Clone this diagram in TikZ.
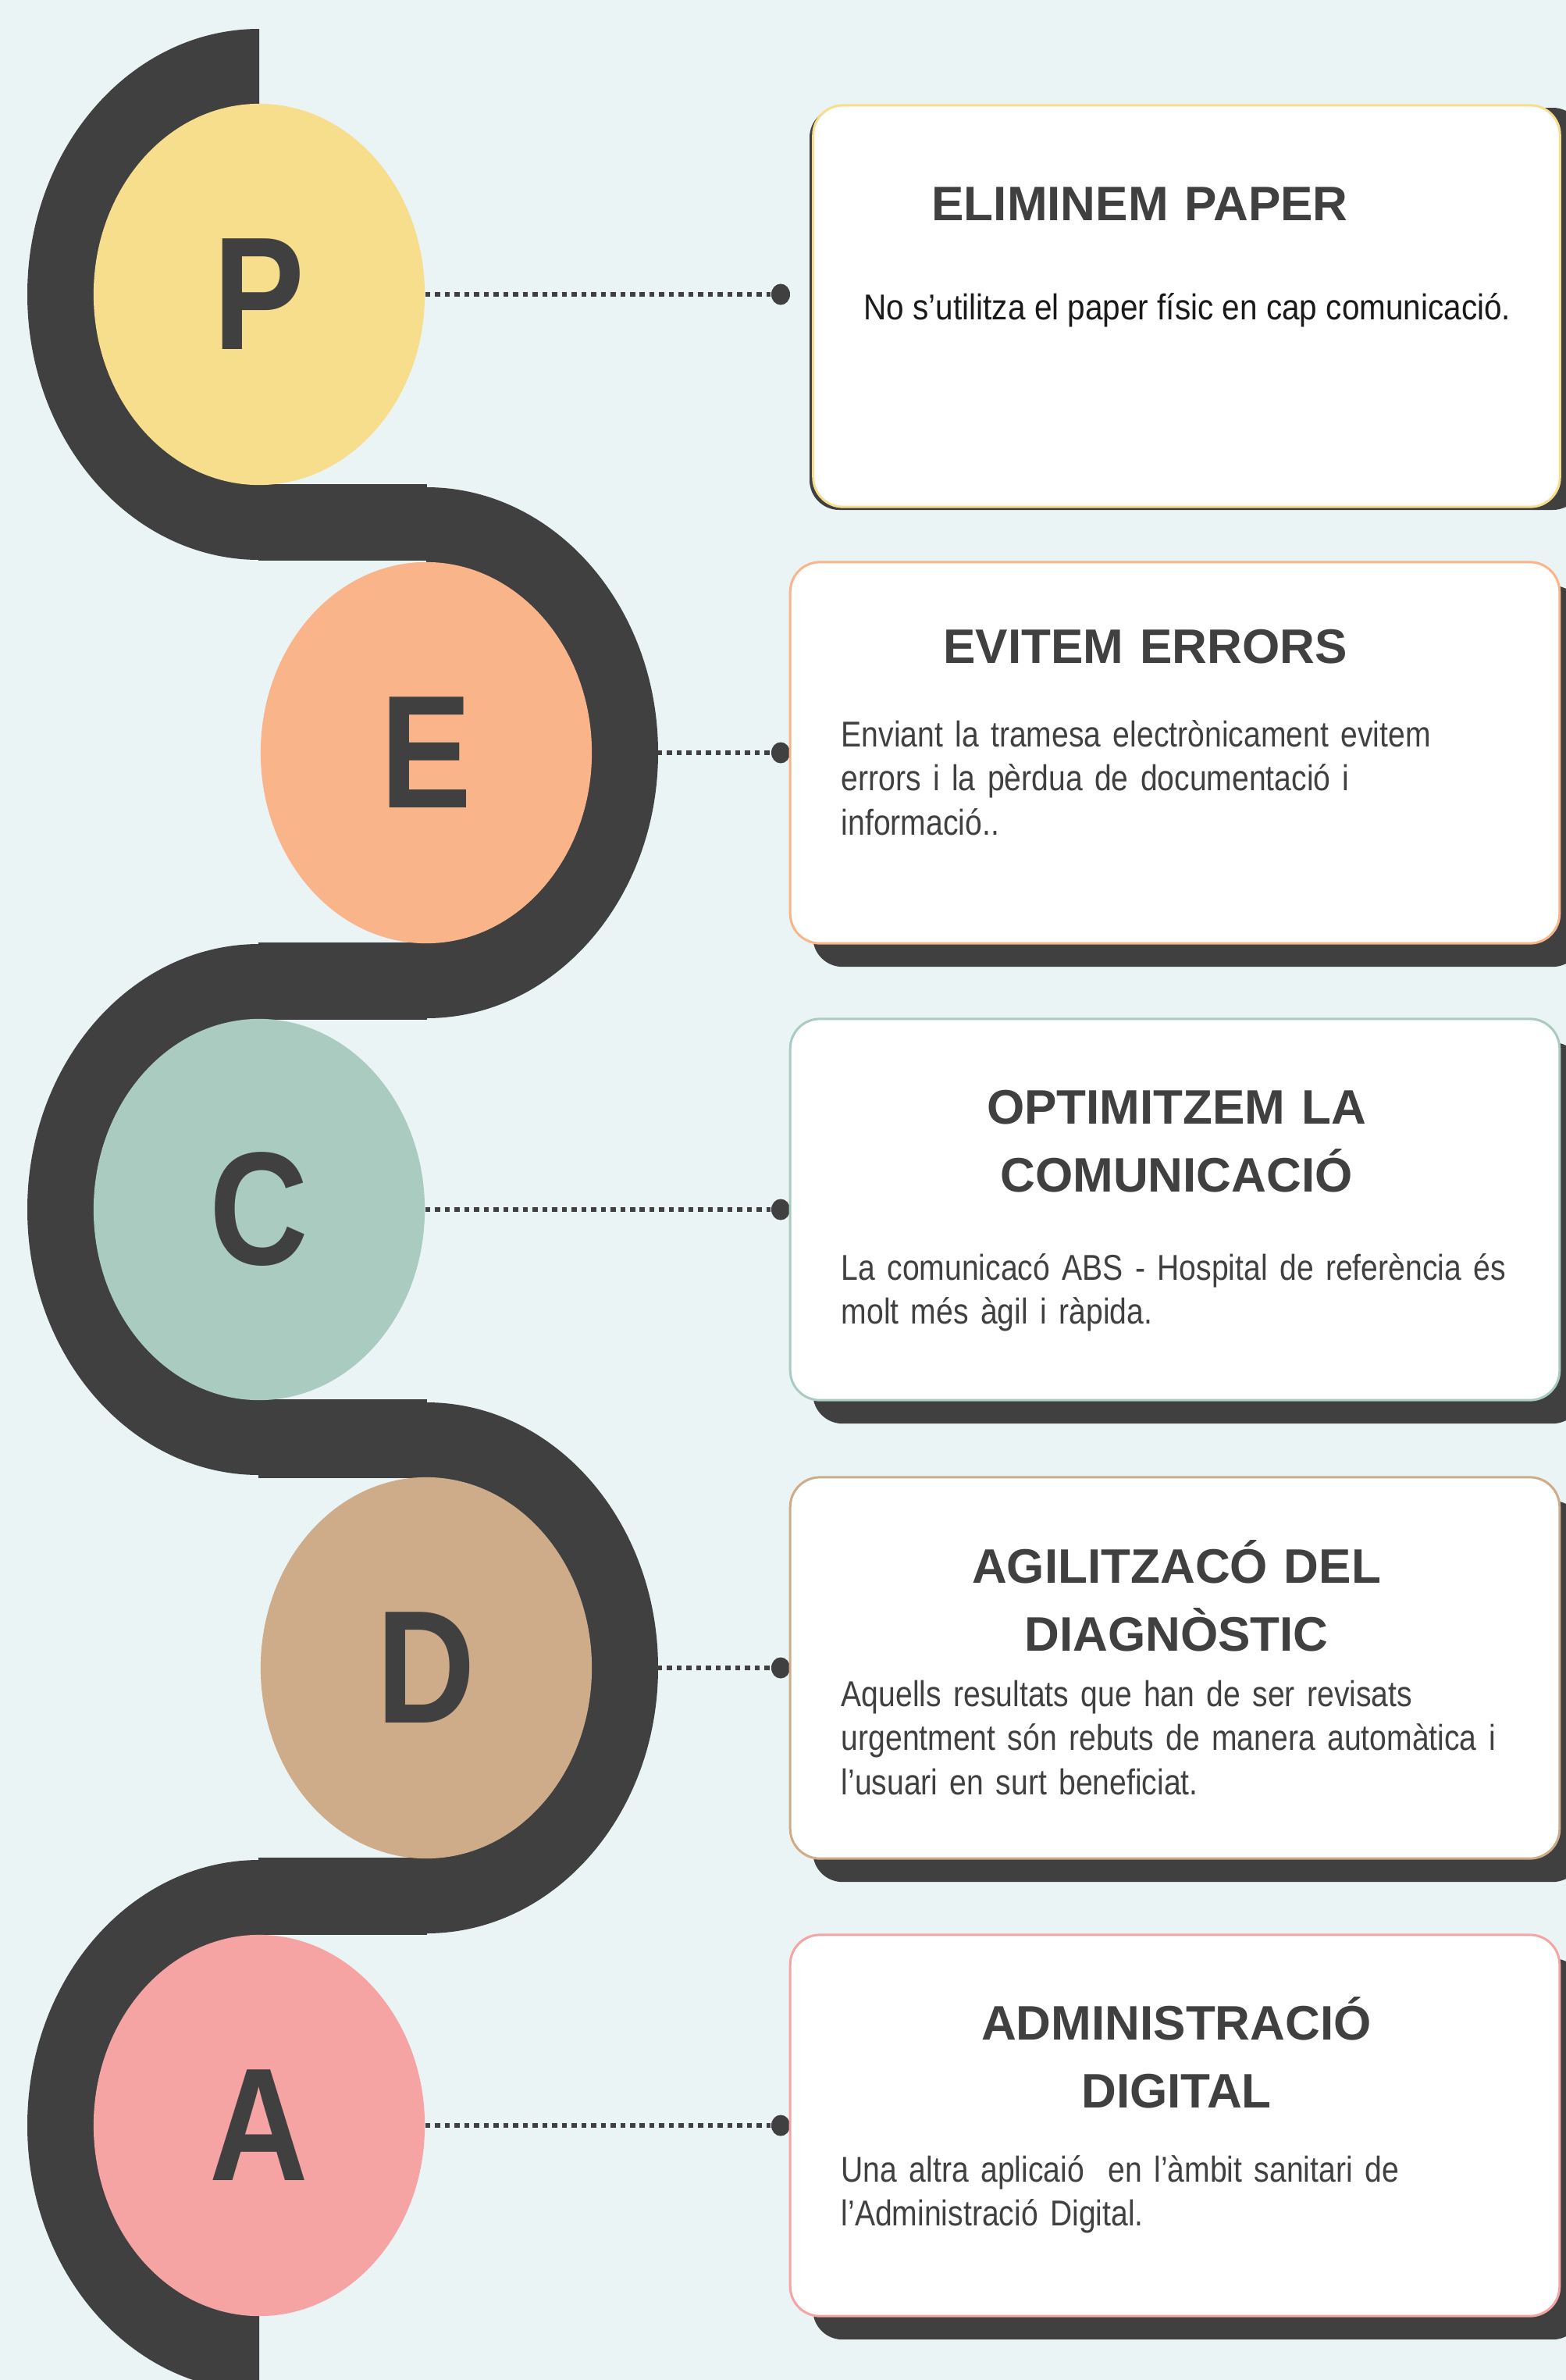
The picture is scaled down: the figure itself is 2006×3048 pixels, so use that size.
\documentclass[tikz,border=0pt]{standalone}
\usepackage{fontspec}
\setmainfont{Liberation Sans}
\newfontfamily\letterfont[FakeStretch=0.85]{Liberation Sans}
\newfontfamily\bodyfont[FakeStretch=0.85]{Liberation Sans}
\newfontfamily\notefont[FakeStretch=0.88]{Liberation Sans}
\usetikzlibrary{shapes.geometric,shadows,positioning}

\definecolor{bg}{HTML}{EAF4F5}
\definecolor{band}{HTML}{404040}
\definecolor{ink}{HTML}{404040}
\definecolor{cP}{HTML}{F7DE8D}
\definecolor{cE}{HTML}{F9B48A}
\definecolor{cC}{HTML}{AACBBF}
\definecolor{cD}{HTML}{CEAC8A}
\definecolor{cA}{HTML}{F5A3A3}

\begin{document}
\begin{tikzpicture}[x=0.01cm,y=0.01cm,
    letter/.style={ellipse,inner sep=0pt,minimum width=4.24cm,minimum height=4.88cm,
        text=ink,font=\letterfont\bfseries\fontsize{58.6}{60}\selectfont},
    knob/.style={ellipse,fill=band,inner sep=0pt,minimum width=0.24cm,minimum height=0.27cm},
    leader/.style={band,line width=1.85pt,dash pattern=on 1.85pt off 1.7pt},
    card/.style={rectangle,rounded corners=0.38cm,fill=white,line width=0.85pt,
        minimum width=9.85cm,minimum height=4.88cm,inner sep=0pt},
    cardshadow/.style={drop shadow={shadow xshift=0.29cm,shadow yshift=-0.30cm,fill=band,opacity=1}},
    head/.style={anchor=base,text=ink,text width=9cm,align=center,inner sep=0pt,
        font=\bfseries\fontsize{17.64}{24.75}\selectfont},
    body/.style={anchor=base west,text=ink,text width=9.3cm,align=left,inner sep=0pt,
        font=\bodyfont\fontsize{13.09}{16.08}\selectfont}]
    \useasboundingbox (0,0) rectangle (2006,-3048);
    \fill[bg] (0,0) rectangle (2006,-3048);

    % ribbon
    \foreach \cx/\cy/\ex in {332/377/-100, 546/964/1000, 332/1549/-100, 546/2136/1000, 332/2722/-100}{
        \begin{scope}
            \clip (\cx,-\cy+400) rectangle (\ex,-\cy-400);
            \fill[band] (\cx,-\cy) ellipse [x radius=297,y radius=340];
        \end{scope}
    }
    \foreach \ya/\yb in {620/718, 1207/1306, 1792/1893, 2379/2478}
        \fill[band] (331,-\ya) rectangle (547,-\yb);

    \node[letter,fill=cP] (P) at (332,-377) {P};
    \node[letter,fill=cE] (E) at (546,-964) {E};
    \node[letter,fill=cC] (C) at (332,-1549) {C};
    \node[letter,fill=cD] (D) at (546,-2136) {D};
    \node[letter,fill=cA] (A) at (332,-2722) {A};

    \node[knob] (dP) at (1000,-377) {};
    \node[knob] (dE) at (1000,-964) {};
    \node[knob] (dC) at (1000,-1549) {};
    \node[knob] (dD) at (1000,-2136) {};
    \node[knob] (dA) at (1000,-2722) {};

    \draw[leader] (P.east) -- (dP);
    \draw[leader] ([xshift=0.83cm]E.east) -- (dE);
    \draw[leader] (C.east) -- (dC);
    \draw[leader] ([xshift=0.83cm]D.east) -- (dD);
    \draw[leader] (A.east) -- (dA);

    % cards
    \fill[band,rounded corners=0.38cm] (1037,-138) rectangle (2027,-653);
    \node[card,draw=cP,minimum width=9.56cm,minimum height=5.14cm] (kP) at (1520,-392) {};
    \node[card,cardshadow,draw=cE] (kE) at (1505,-964) {};
    \node[card,cardshadow,draw=cC] (kC) at (1505,-1549) {};
    \node[card,cardshadow,draw=cD] (kD) at (1505,-2136) {};
    \node[card,cardshadow,draw=cA] (kA) at (1505,-2722) {};

    \node[head] (tP) at (1460,-282) {ELIMINEM PAPER};
    \node[anchor=base,inner sep=0pt,text=black!90,font=\notefont\fontsize{13.09}{16.08}\selectfont]
        (bP) at (1521,-409) {No s’utilitza el paper físic en cap comunicació.};

    \node[head] (tE) at (1467,-849) {EVITEM ERRORS};
    \node[body] (bE) at (1077,-956) {Enviant la tramesa electrònicament evitem\\errors i la pèrdua de documentació i\\informació..};

    \node[head] (tC) at (1507,-1439) {OPTIMITZEM LA\\COMUNICACIÓ};
    \node[body] (bC) at (1077,-1639) {La comunicacó ABS - Hospital de referència és\\molt més àgil i ràpida.};

    \node[head] (tD) at (1507,-2027) {AGILITZACÓ DEL\\DIAGNÒSTIC};
    \node[body] (bD) at (1077,-2185) {Aquells resultats que han de ser revisats\\urgentment són rebuts de manera automàtica i\\l’usuari en surt beneficiat.};

    \node[head] (tA) at (1507,-2612) {ADMINISTRACIÓ\\DIGITAL};
    \node[body] (bA) at (1077,-2794) {Una altra aplicaió\ \ en l’àmbit sanitari de\\l’Administració Digital.};
\end{tikzpicture}
\end{document}
